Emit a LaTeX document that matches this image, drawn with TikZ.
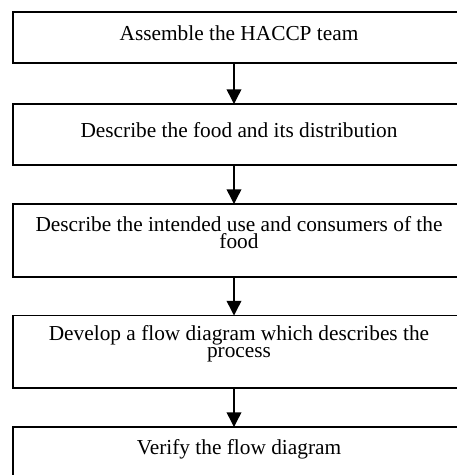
\documentclass[tikz,border=0pt]{standalone}
\usepackage{fontspec}
\setmainfont{Liberation Serif}
\usetikzlibrary{arrows.meta}
\begin{document}
\begin{tikzpicture}[x=0.75pt,y=-0.75pt,
  box/.style={draw=black, line width=1.1pt, rectangle, inner sep=0pt, outer sep=0pt,
              minimum width=339pt, anchor=north west},
  lbl/.style={font=\fontsize{16}{12.75}\selectfont, inner sep=0pt, align=center, anchor=base},
  arr/.style={draw=black, line width=1.1pt, -{Triangle[length=11pt,width=11pt]}}]
\useasboundingbox (0,0) rectangle (457,475);
\clip (0,0) rectangle (457,475);
\node[box, minimum height=38.25pt] (b1) at (13,12) {};
\node[box, minimum height=45.75pt] (b2) at (13,104) {};
\node[box, minimum height=54.75pt] (b3) at (13,204) {};
\node[box, minimum height=54.4pt]  (b4) at (13,315.5) {};
\node[box, minimum height=60pt]    (b5) at (13,427) {};
\node[lbl] (t1) at (239,40) {Assemble the HACCP team};
\node[lbl] (t2) at (239,137.5) {Describe the food and its distribution};
\node[lbl] (t3) at (239,248) {Describe the intended use and consumers of the\\food};
\node[lbl] (t4) at (239,357.5) {Develop a flow diagram which describes the\\process};
\node[lbl] (t5) at (239,454) {Verify the flow diagram};
\coordinate (ax) at (234,0);
\draw[arr] (b1.south -| ax) -- (b2.north -| ax);
\draw[arr] (b2.south -| ax) -- (b3.north -| ax);
\draw[arr] (b3.south -| ax) -- (b4.north -| ax);
\draw[arr] (b4.south -| ax) -- (b5.north -| ax);
\end{tikzpicture}
\end{document}
